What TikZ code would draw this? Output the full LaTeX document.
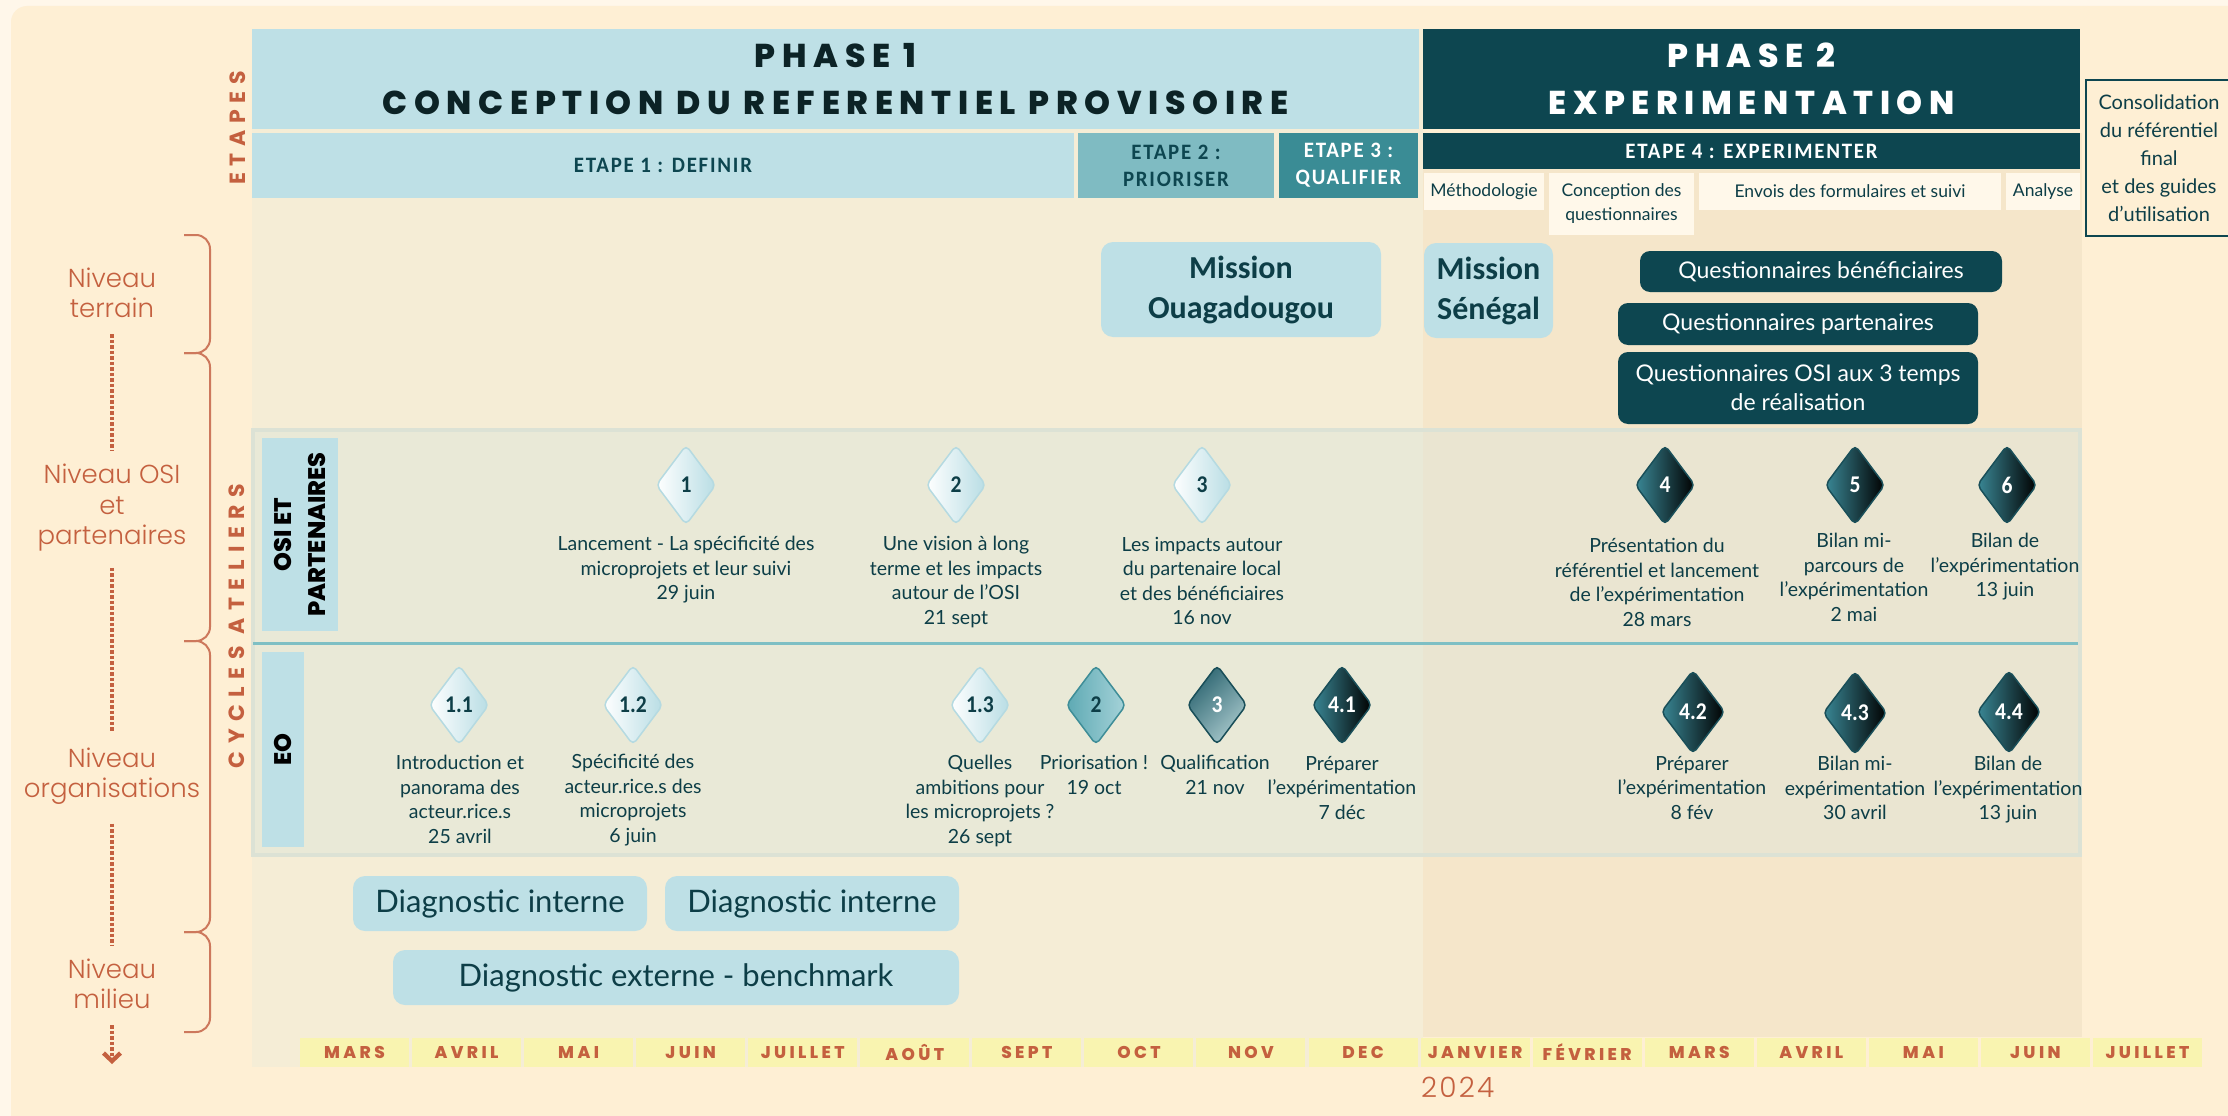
\documentclass[tikz,border=0pt]{standalone}
\usepackage{fontspec}
\setmainfont{Lato}
\newfontfamily\bodyf{Lato}
\newfontfamily\semif{Carlito}[UprightFont={* Bold}]
\newfontfamily\headf{Poppins}[UprightFont={* ExtraBold},LetterSpace=20]
\newfontfamily\spacedf{Poppins}[LetterSpace=30]
\newfontfamily\cyclesf{Poppins}[LetterSpace=34]
\newfontfamily\blackf{Poppins}[UprightFont={* ExtraBold}]
\newfontfamily\monthf{Poppins}[UprightFont={* ExtraBold},LetterSpace=20]
\newfontfamily\condf{Carlito}[UprightFont={* Bold},FakeStretch=0.95,LetterSpace=8]
\newfontfamily\numf{Carlito}[UprightFont={* Bold},FakeStretch=0.9]
\newfontfamily\thinf{Poppins}[UprightFont={* Light}]
\newfontfamily\yearf{Poppins}[UprightFont={* Light},LetterSpace=8]
\usetikzlibrary{shapes.geometric,arrows.meta}
\definecolor{outerbg}{HTML}{FFF7EA}
\definecolor{innerbg}{HTML}{FEEFD4}
\definecolor{phonebg}{HTML}{F5EDD6}
\definecolor{phtwobg}{HTML}{F5E6CA}
\definecolor{band}{HTML}{E9E9D7}
\definecolor{bandR}{HTML}{EAE5D1}
\definecolor{bandedge}{HTML}{DCE2D5}
\definecolor{sepline}{HTML}{7EBFC4}
\definecolor{lb}{HTML}{BEE0E6}
\definecolor{midteal}{HTML}{7FBBC2}
\definecolor{teal}{HTML}{3A8C95}
\definecolor{dk}{HTML}{0D4650}
\definecolor{ink}{HTML}{0D3E47}
\definecolor{hdrink}{HTML}{0C2326}
\definecolor{orng}{HTML}{C4603F}
\definecolor{yel}{HTML}{F9F4B0}
\definecolor{subbox}{HTML}{FFF8EA}
\definecolor{lbedge}{HTML}{B5DAE1}
\definecolor{lbdia}{HTML}{B8DDE4}
\definecolor{dkedge}{HTML}{1A4F59}
\definecolor{tealdia}{HTML}{3A8896}
\definecolor{mtedge}{HTML}{3F8E98}
\definecolor{mtleft}{HTML}{5DA9B3}
\definecolor{mtright}{HTML}{A6D3D9}
\definecolor{qtop}{HTML}{2C6570}
\definecolor{qbot}{HTML}{A9C9CD}
\begin{document}
\begin{tikzpicture}[x=1pt,y=-1pt,
  box/.style={inner sep=0pt,align=center},
  body/.style={font=\bodyf\fontsize{19.5}{24.5}\selectfont,text=ink,align=center,inner sep=0pt,anchor=north},
  month/.style={fill=yel,minimum width=109pt,minimum height=29pt,inner sep=0pt,text=orng,font=\monthf\fontsize{17}{17}\selectfont},
  dia/.style={shape=diamond,aspect=0.75,minimum width=60pt,minimum height=80pt,inner sep=0pt,rounded corners=5pt,line width=1.5pt,font=\numf\fontsize{24}{24}\selectfont},
  dl/.style={dia,draw=lbedge,left color=white,right color=lbdia,text=ink},
  dd/.style={dia,draw=dkedge,left color=tealdia,right color=black,text=white},
  dbig/.style={minimum width=64pt,minimum height=84pt},
  lvl/.style={font=\thinf\fontsize{26}{30.5}\selectfont,text=orng,align=center,inner sep=3pt},
  dotline/.style={orng,line width=4.3pt,dash pattern=on 3.3pt off 2.2pt,shorten <=13pt,shorten >=10pt},
  brace/.style={orng!85,line width=2pt,rounded corners=14pt},
  lightbox/.style={fill=lb,rounded corners=12pt,inner sep=0pt,align=center,text=ink},
  darkbox/.style={fill=dk,rounded corners=10pt,inner sep=0pt,align=center,text=white,font=\bodyf\fontsize{23}{29}\selectfont},
  sub/.style={fill=subbox,inner sep=0pt,align=center,text=ink,font=\bodyf\fontsize{17.5}{24}\selectfont},
  etp/.style={box,font=\condf\fontsize{22}{27}\selectfont}
]
\useasboundingbox (0,0) rectangle (2228,1116);
\fill[outerbg] (0,0) rectangle (2228,1116);
\fill[innerbg,rounded corners=16pt] (11,6) rectangle (2270,1150);
\fill[phonebg] (252,29) rectangle (1423,1067);
\fill[phtwobg] (1423,133) rectangle (2082,1037);
% band of workshops
\filldraw[fill=band,draw=bandedge,line width=4pt] (253,430) rectangle (2080,855);
\fill[bandR] (1423,432) rectangle (2078,853);
\draw[sepline,line width=3pt] (253,643) -- (2078,643);

% phases
\node[box,fill=lb,minimum width=1167pt,minimum height=100pt,text=hdrink,
  font=\headf\fontsize{33}{47}\selectfont] (ph1) at (835.5,79)
  {PHASE 1\\CONCEPTION DU REFERENTIEL PROVISOIRE};
\node[box,fill=dk,minimum width=657pt,minimum height=100pt,text=white,
  font=\headf\fontsize{33}{47}\selectfont] (ph2) at (1751.5,79)
  {PHASE 2\\EXPERIMENTATION};

% etapes
\node[etp,fill=lb,minimum width=822pt,minimum height=65pt,text=dk] (e1) at (663,165.5) {ETAPE 1 : DEFINIR};
\node[etp,fill=midteal,minimum width=196pt,minimum height=65pt,text=dk] (e2) at (1176,165.5) {ETAPE 2 :\\PRIORISER};
\node[etp,fill=teal,minimum width=139pt,minimum height=65pt,text=white] (e3) at (1348.5,165.5) {ETAPE 3 :\\QUALIFIER};
\node[etp,fill=dk,minimum width=657pt,minimum height=36pt,text=white] (e4) at (1751.5,151) {ETAPE 4 : EXPERIMENTER};
\node[sub,minimum width=120pt,minimum height=37pt] (s1) at (1484,191.5) {Méthodologie};
\node[sub,minimum width=145pt,minimum height=62pt] (s2) at (1621.5,204) {Conception des\\questionnaires};
\node[sub,minimum width=302pt,minimum height=37pt] (s3) at (1850,191.5) {Envois des formulaires et suivi};
\node[sub,minimum width=74pt,minimum height=37pt] (s4) at (2043,191.5) {Analyse};
\node[draw=dk,line width=2.5pt,fill=innerbg,minimum width=146pt,minimum height=156pt,
  inner sep=0pt,align=center,text=ink,font=\bodyf\fontsize{20}{28}\selectfont] (cons) at (2159,158)
  {Consolidation\\du référentiel\\final\\et des guides\\d’utilisation};

% side titles
\node[rotate=90,text=orng,font=\spacedf\bfseries\fontsize{22}{22}\selectfont] (etapes) at (238,128) {ETAPES};
\node[rotate=90,text=orng,font=\cyclesf\bfseries\fontsize{22}{22}\selectfont] (cycles) at (237,626) {CYCLES ATELIERS};

% braces
\draw[brace] (184,235) -- (210,235) -- (210,353) -- (184,353);
\draw[brace] (184,353) -- (210,353) -- (210,641) -- (184,641);
\draw[brace] (184,641) -- (210,641) -- (210,932) -- (184,932);
\draw[brace] (184,932) -- (210,932) -- (210,1032) -- (184,1032);

% levels
\node[lvl] (lter) at (112,293) {Niveau\\terrain};
\node[lvl] (losi) at (112,508) {Niveau OSI\\et\\partenaires};
\node[lvl,fill=innerbg,rounded corners=10pt,inner sep=6pt] (lorg) at (112,776) {Niveau\\organisations};
\node[lvl] (lmil) at (112,984) {Niveau\\milieu};
\coordinate (arrend) at (112,1064);
\draw[dotline] (lter) -- (losi);
\draw[dotline] (losi) -- (lorg);
\draw[dotline] (lorg) -- (lmil);
\draw[dotline,shorten >=0pt,-{Straight Barb[length=8pt,width=17pt,line width=4.3pt]}] (lmil) -- (arrend);

% top region boxes
\node[lightbox,minimum width=280pt,minimum height=95pt,font=\semif\fontsize{32}{40}\selectfont] (mouaga) at (1241,289.5) {Mission\\Ouagadougou};
\node[lightbox,minimum width=129pt,minimum height=95pt,font=\semif\fontsize{32}{40}\selectfont] (msen) at (1488.5,290.5) {Mission\\Sénégal};
\node[darkbox,minimum width=362pt,minimum height=41pt] (qben) at (1821,271.5) {Questionnaires bénéficiaires};
\node[darkbox,minimum width=360pt,minimum height=42pt] (qpart) at (1798,324) {Questionnaires partenaires};
\node[darkbox,minimum width=360pt,minimum height=72pt] (qosi) at (1798,388) {Questionnaires OSI aux 3 temps\\de réalisation};

% row labels
\node[rotate=90,fill=lb,minimum width=193pt,minimum height=76pt,inner sep=0pt,align=center,
  text=black,font=\blackf\fontsize{24}{34}\selectfont] (rosi) at (300,534.5) {OSI ET\\PARTENAIRES};
\node[rotate=90,fill=lb,minimum width=195pt,minimum height=42pt,inner sep=0pt,
  text=black,font=\blackf\fontsize{24}{34}\selectfont] (reo) at (283,749.5) {EO};

% OSI diamonds
\node[dl] (o1) at (686,485) {1};
\node[dl] (o2) at (956,485) {2};
\node[dl] (o3) at (1202,485) {3};
\node[dd] (o4) at (1665,485) {4};
\node[dd] (o5) at (1855,485) {5};
\node[dd] (o6) at (2007,485) {6};
\node[body] (to1) at (686,536) {Lancement - La spécificité des\\microprojets et leur suivi\\29 juin};
\node[body] (to2) at (956,536) {Une vision à long\\terme et les impacts\\autour de l’OSI\\21 sept};
\node[body] (to3) at (1202,537) {Les impacts autour\\du partenaire local\\et des bénéficiaires\\16 nov};
\node[body] (to4) at (1657,538) {Présentation du\\référentiel et lancement\\de l’expérimentation\\28 mars};
\node[body] (to5) at (1854,533) {Bilan mi-\\parcours de\\l’expérimentation\\2 mai};
\node[body] (to6) at (2005,533) {Bilan de\\l’expérimentation\\13 juin};

% EO diamonds
\node[dl] (w11) at (459,705) {1.1};
\node[dl] (w12) at (633,705) {1.2};
\node[dl] (w13) at (980,705) {1.3};
\node[dia,draw=mtedge,left color=mtleft,right color=mtright,text=ink] (w2) at (1096,705) {2};
\node[dia,draw=dkedge,top color=qtop,bottom color=qbot,shading angle=45,text=white] (w3) at (1217,705) {3};
\node[dd] (w41) at (1342,705) {4.1};
\node[dd,dbig] (w42) at (1693,712) {4.2};
\node[dd,dbig] (w43) at (1855,713) {4.3};
\node[dd,dbig] (w44) at (2009,712) {4.4};
\node[body] (tw11) at (460,755) {Introduction et\\panorama des\\acteur.rice.s\\25 avril};
\node[body] (tw12) at (633,754) {Spécificité des\\acteur.rice.s des\\microprojets\\6 juin};
\node[body] (tw13) at (980,755) {Quelles\\ambitions pour\\les microprojets ?\\26 sept};
\node[body] (tw2) at (1094,755) {Priorisation !\\19 oct};
\node[body] (tw3) at (1215,755) {Qualification\\21 nov};
\node[body] (tw41) at (1342,756) {Préparer\\l’expérimentation\\7 déc};
\node[body] (tw42) at (1692,756) {Préparer\\l’expérimentation\\8 fév};
\node[body] (tw43) at (1855,756) {Bilan mi-\\expérimentation\\30 avril};
\node[body] (tw44) at (2008,756) {Bilan de\\l’expérimentation\\13 juin};

% diagnostics
\node[lightbox,minimum width=294pt,minimum height=55pt,font=\bodyf\fontsize{31}{36}\selectfont] (di1) at (500,903.5) {Diagnostic interne};
\node[lightbox,minimum width=294pt,minimum height=55pt,font=\bodyf\fontsize{31}{36}\selectfont] (di2) at (812,903.5) {Diagnostic interne};
\node[lightbox,minimum width=566pt,minimum height=55pt,font=\bodyf\fontsize{31}{36}\selectfont] (dex) at (676,977.5) {Diagnostic externe - benchmark};

% months
\foreach \m [count=\i from 0] in {MARS,AVRIL,MAI,JUIN,JUILLET,AOÛT,SEPT,OCT,NOV,DEC,JANVIER,FÉVRIER,MARS,AVRIL,MAI,JUIN,JUILLET}
  \node[month] (m\i) at ({354.5+112.06*\i},1052.5) {\m};
\node[anchor=west,inner sep=0pt,text=orng,font=\yearf\fontsize{28}{28}\selectfont] (year) at (1421,1087) {2024};
\end{tikzpicture}
\end{document}
